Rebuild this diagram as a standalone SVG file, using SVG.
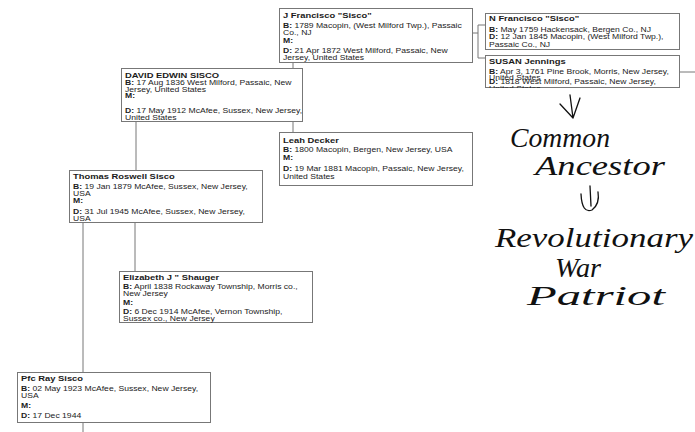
<svg xmlns="http://www.w3.org/2000/svg" width="695" height="432" viewBox="0 0 695 432">
<style>
.bx{fill:#fff;stroke:#777;stroke-width:1}
.t{font-family:"Liberation Sans",Arial,sans-serif;font-size:8.6px;fill:#222}
.n{font-family:"Liberation Sans",Arial,sans-serif;font-size:9.4px;font-weight:bold;fill:#1a1a1a}
.k{font-weight:bold}
.cn{fill:none;stroke:#777;stroke-width:1}
.hw{font-family:"Liberation Serif","DejaVu Serif",serif;font-style:italic;font-size:28px;fill:#111}
.ha{fill:none;stroke:#111;stroke-width:1.3;stroke-linecap:round;stroke-linejoin:round}
</style>
<defs>
<clipPath id="cN"><rect x="485" y="13" width="195" height="36"/></clipPath>
<clipPath id="cS"><rect x="485" y="55" width="195" height="33"/></clipPath>
</defs>
<rect width="695" height="432" fill="#fff"/>
<g id="connectors">
<path class="cn" d="M472,33 H478 M478,25 V58 M478,25 H485 M478,58 H485"/>
<path class="cn" d="M680,72 H695"/>
<path class="cn" d="M293,62 V68 M293,121 V132"/>
<path class="cn" d="M136,121 V170"/>
<path class="cn" d="M135,222 V271"/>
<path class="cn" d="M83,222 V372 M83,422 V432"/>
</g>
<g id="j-francisco">
<rect class="bx" x="279.5" y="8.5" width="193" height="54"/>
<g transform="scale(1,0.82)">
<text class="n" x="283" y="21.95">J Francisco "Sisco"</text>
<text class="t" x="283" y="34.15"><tspan class="k">B:</tspan> 1789 Macopin, (West Milford Twp.), Passaic</text>
<text class="t" x="283" y="43.29">Co., NJ</text>
<text class="t" x="283" y="52.44"><tspan class="k">M:</tspan></text>
<text class="t" x="283" y="64.63"><tspan class="k">D:</tspan> 21 Apr 1872 West Milford, Passaic, New</text>
<text class="t" x="283" y="73.78">Jersey, United States</text>
</g>
</g>
<g id="n-francisco">
<rect class="bx" x="485.5" y="13.5" width="194" height="36"/>
<g clip-path="url(#cN)">
<g transform="scale(1,0.82)">
<text class="n" x="489" y="26.22">N Francisco "Sisco"</text>
<text class="t" x="489" y="39.02"><tspan class="k">B:</tspan> May 1759 Hackensack, Bergen Co., NJ</text>
<text class="t" x="489" y="48.17"><tspan class="k">D:</tspan> 12 Jan 1845 Macopin, (West Milford Twp.),</text>
<text class="t" x="489" y="57.93">Passaic Co., NJ</text>
</g>
</g>
</g>
<g id="susan-jennings">
<rect class="bx" x="485.5" y="55.5" width="194" height="32"/>
<g clip-path="url(#cS)">
<g transform="scale(1,0.82)">
<text class="n" x="489" y="78.05">SUSAN Jennings</text>
<text class="t" x="489" y="90.24"><tspan class="k">B:</tspan> Apr 3, 1761 Pine Brook, Morris, New Jersey,</text>
<text class="t" x="489" y="97.3">United States</text>
<text class="t" x="489" y="103.05"><tspan class="k">D:</tspan> 1818 West Milford, Passaic, New Jersey,</text>
<text class="t" x="489" y="110.98">United States</text>
</g>
</g>
</g>
<g id="david-edwin-sisco">
<rect class="bx" x="121.5" y="68.5" width="181" height="53"/>
<g transform="scale(1,0.82)">
<text class="n" x="125" y="95.12">DAVID EDWIN SISCO</text>
<text class="t" x="125" y="103.66"><tspan class="k">B:</tspan> 17 Aug 1836 West Milford, Passaic, New</text>
<text class="t" x="125" y="112.2">Jersey, United States</text>
<text class="t" x="125" y="119.2"><tspan class="k">M:</tspan></text>
<text class="t" x="125" y="137.8"><tspan class="k">D:</tspan> 17 May 1912 McAfee, Sussex, New Jersey,</text>
<text class="t" x="125" y="146.34">United States</text>
</g>
</g>
<g id="leah-decker">
<rect class="bx" x="279.5" y="132.5" width="193" height="53"/>
<g transform="scale(1,0.82)">
<text class="n" x="283" y="174.39">Leah Decker</text>
<text class="t" x="283" y="185.37"><tspan class="k">B:</tspan> 1800 Macopin, Bergen, New Jersey, USA</text>
<text class="t" x="283" y="195.12"><tspan class="k">M:</tspan></text>
<text class="t" x="283" y="208.54"><tspan class="k">D:</tspan> 19 Mar 1881 Macopin, Passaic, New Jersey,</text>
<text class="t" x="283" y="218.29">United States</text>
</g>
</g>
<g id="thomas-roswell-sisco">
<rect class="bx" x="69.5" y="170.5" width="193" height="52"/>
<g transform="scale(1,0.82)">
<text class="n" x="73" y="218.9">Thomas Roswell Sisco</text>
<text class="t" x="73" y="230.49"><tspan class="k">B:</tspan> 19 Jan 1879 McAfee, Sussex, New Jersey,</text>
<text class="t" x="73" y="239.02">USA</text>
<text class="t" x="73" y="247.56"><tspan class="k">M:</tspan></text>
<text class="t" x="73" y="260.98"><tspan class="k">D:</tspan> 31 Jul 1945 McAfee, Sussex, New Jersey,</text>
<text class="t" x="73" y="269.51">USA</text>
</g>
</g>
<g id="elizabeth-shauger">
<rect class="bx" x="119.5" y="271.5" width="193" height="51"/>
<g transform="scale(1,0.82)">
<text class="n" x="123" y="341.46">Elizabeth J " Shauger</text>
<text class="t" x="123" y="352.44"><tspan class="k">B:</tspan> April 1838 Rockaway Township, Morris co.,</text>
<text class="t" x="123" y="360.98">New Jersey</text>
<text class="t" x="123" y="371.95"><tspan class="k">M:</tspan></text>
<text class="t" x="123" y="382.93"><tspan class="k">D:</tspan> 6 Dec 1914 McAfee, Vernon Township,</text>
<text class="t" x="123" y="391.46">Sussex co., New Jersey</text>
</g>
</g>
<g id="pfc-ray-sisco">
<rect class="bx" x="17.5" y="372.5" width="193" height="50"/>
<g transform="scale(1,0.82)">
<text class="n" x="21" y="465.24">Pfc Ray Sisco</text>
<text class="t" x="21" y="476.83"><tspan class="k">B:</tspan> 02 May 1923 McAfee, Sussex, New Jersey,</text>
<text class="t" x="21" y="485.37">USA</text>
<text class="t" x="21" y="497.56"><tspan class="k">M:</tspan></text>
<text class="t" x="21" y="509.76"><tspan class="k">D:</tspan> 17 Dec 1944</text>
</g>
</g>
<g id="annotation">
<path class="ha" d="M570,95 L573,118 M560,104 L573,118 L580,98"/>
<text class="hw" x="510" y="147" textLength="100" lengthAdjust="spacingAndGlyphs">Common</text>
<text class="hw" x="535" y="175" textLength="130" lengthAdjust="spacingAndGlyphs">Ancestor</text>
<path class="ha" d="M590,186 L591,206 M581,194 Q582,214 592,210 Q600,204 598,192"/>
<text class="hw" x="495" y="247" textLength="198" lengthAdjust="spacingAndGlyphs">Revolutionary</text>
<text class="hw" x="555" y="277" textLength="46" lengthAdjust="spacingAndGlyphs">War</text>
<text class="hw" x="527" y="305" textLength="138" lengthAdjust="spacingAndGlyphs">Patriot</text>
</g>
</svg>
